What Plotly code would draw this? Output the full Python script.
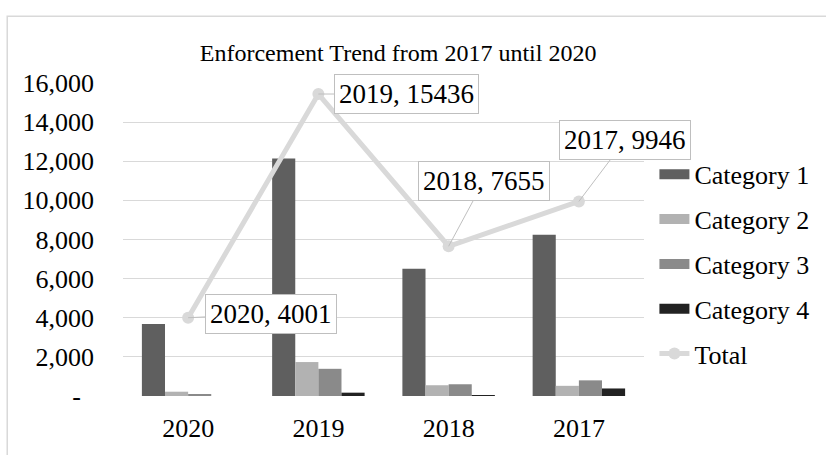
import plotly.graph_objects as go

years = ["2020", "2019", "2018", "2017"]
cat1 = [3680, 12140, 6500, 8240]
cat2 = [220, 1735, 550, 520]
cat3 = [100, 1390, 600, 800]
cat4 = [0, 170, 5, 385]
total = [4001, 15436, 7655, 9946]
series_names = ["Category 1", "Category 2", "Category 3", "Category 4"]
series_colors = ["#5f5f5f", "#b2b2b2", "#8a8a8a", "#222222"]
ytick_vals = [0, 2000, 4000, 6000, 8000, 10000, 12000, 14000, 16000]
ytick_text = ["-\u00a0\u00a0", "2,000", "4,000", "6,000", "8,000", "10,000", "12,000", "14,000", "16,000"]
title_text = "Enforcement Trend from 2017 until 2020"
# label offsets (pixels) of callout boxes from their points
label_dx = [83, 88, 35, 46]
label_dy = [-4, 0, -65, -61]

FONT = "Liberation Serif, Times New Roman, serif"
fig = go.Figure()

for name, vals, col in zip(series_names, [cat1, cat2, cat3, cat4], series_colors):
    fig.add_trace(go.Bar(x=years, y=vals, name=name, marker=dict(color=col, line=dict(width=0)),
                         legendgroup=name, showlegend=False))
    fig.add_trace(go.Scatter(x=[years[0]], y=[None], mode="lines", name=name, legendgroup=name,
                             line=dict(color=col, width=13), showlegend=True, hoverinfo="skip"))

fig.add_trace(go.Scatter(x=years, y=total, mode="lines+markers", name="Total", legendgroup="Total",
                         line=dict(color="#d9d9d9", width=5),
                         marker=dict(color="#d9d9d9", size=12)))

for i, (yr, t, dx, dy) in enumerate(zip(years, total, label_dx, label_dy)):
    fig.add_annotation(x=i, y=t, xref="x", yref="y", text=f"{yr}, {t}", showarrow=True,
                       ax=dx, ay=dy, arrowhead=0, arrowwidth=1, arrowcolor="#bfbfbf",
                       bgcolor="white", bordercolor="#bfbfbf", borderwidth=1, borderpad=4,
                       font=dict(family=FONT, size=27, color="black"))

# chart-area border
fig.add_shape(type="rect", xref="paper", yref="paper", x0=-0.2222, x1=1.36, y0=-0.2, y1=1.2134,
              line=dict(color="#d9d9d9", width=1.5), fillcolor="rgba(0,0,0,0)", layer="below")

fig.update_layout(
    width=826, height=455,
    margin=dict(l=123, r=181, t=83, b=52),
    paper_bgcolor="white", plot_bgcolor="white",
    font=dict(family=FONT, size=26, color="black"),
    title=dict(text=title_text, x=0.482, xanchor="center", y=0.885, yanchor="middle",
               font=dict(family=FONT, size=24, color="black")),
    barmode="group", bargap=0.29, bargroupgap=0,
    showlegend=True,
    legend=dict(x=1.02, xanchor="left", y=0.783, yanchor="top", bgcolor="rgba(0,0,0,0)",
                traceorder="grouped", tracegroupgap=8, font=dict(family=FONT, size=26),
                itemwidth=30),
)
fig.update_xaxes(type="category", categoryorder="array", categoryarray=years,
                 range=[-0.5, len(years) - 0.5],
                 showgrid=False, showline=False, ticks="", ticklabelstandoff=14,
                 tickfont=dict(family=FONT, size=26))
fig.update_yaxes(range=[0, 16000], tickvals=ytick_vals, ticktext=ytick_text, showgrid=True,
                 gridcolor="#d9d9d9", gridwidth=1.3, zeroline=False, showline=False, ticks="",
                 ticklabelstandoff=28, tickfont=dict(family=FONT, size=26))

fig.write_html("out.html")
